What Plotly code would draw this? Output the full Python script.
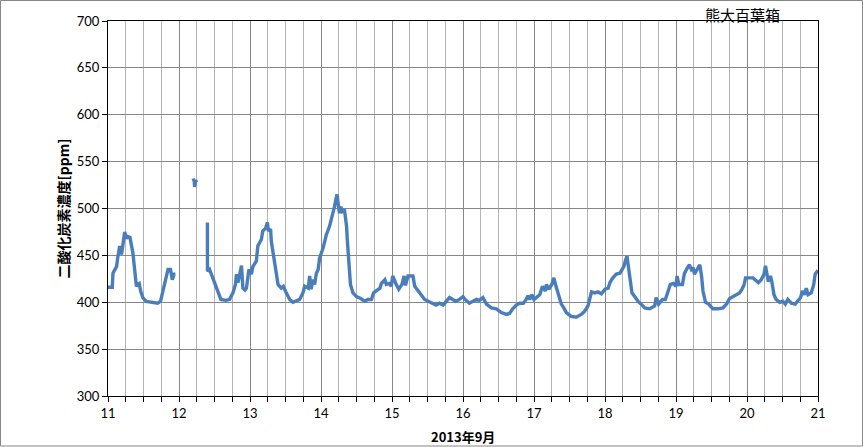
import plotly.graph_objects as go

# Day of September 2013 (fractional) and CO2 concentration [ppm]; None = gap
days = [
    11.00, 11.06, 11.07, 11.12, 11.14, 11.165, 11.19, 11.21, 11.235, 11.26, 11.28, 11.31,
    11.33, 11.35, 11.375, 11.40, 11.42, 11.44, 11.46, 11.49, 11.54, 11.61, 11.70, 11.74,
    11.775, 11.81, 11.845, 11.88, 11.905, 11.93, 11.95,
    11.96,
    12.20, 12.215, 12.22, 12.235, 12.25,
    12.30,
    12.40, 12.401, 12.43, 12.45, 12.50, 12.55, 12.59, 12.66, 12.71, 12.76, 12.795, 12.81,
    12.83, 12.85, 12.88, 12.90, 12.93, 12.95, 12.985, 13.02, 13.04, 13.09, 13.11, 13.16,
    13.18, 13.22, 13.245, 13.26, 13.29, 13.30, 13.325, 13.35, 13.37, 13.395, 13.44, 13.47,
    13.51, 13.56, 13.605, 13.65, 13.70, 13.745, 13.77, 13.82, 13.84, 13.86, 13.89, 13.91,
    13.935, 13.96, 13.98, 14.03, 14.075, 14.12, 14.145, 14.17, 14.19, 14.225, 14.24, 14.26,
    14.28, 14.30, 14.33, 14.36, 14.37, 14.39, 14.415, 14.45, 14.50, 14.56, 14.615, 14.66,
    14.71, 14.74, 14.78, 14.83, 14.85, 14.90, 14.92, 14.96, 14.99, 15.01, 15.06, 15.095,
    15.14, 15.17, 15.19, 15.225, 15.26, 15.295, 15.32, 15.365, 15.41, 15.46, 15.51, 15.575,
    15.62, 15.67, 15.72, 15.765, 15.81, 15.855, 15.90, 15.95, 16.00, 16.03, 16.09, 16.14,
    16.19, 16.23, 16.28, 16.33, 16.40, 16.47, 16.54, 16.61, 16.655, 16.70, 16.75, 16.80,
    16.85, 16.89, 16.915, 16.94, 16.97, 17.00, 17.05, 17.08, 17.12, 17.16, 17.175, 17.21,
    17.25, 17.28, 17.31, 17.34, 17.385, 17.42, 17.455, 17.525, 17.595, 17.665, 17.71, 17.76,
    17.785, 17.81, 17.855, 17.90, 17.95, 18.00, 18.045, 18.07, 18.11, 18.16, 18.21, 18.245,
    18.265, 18.29, 18.31, 18.335, 18.355, 18.38, 18.42, 18.465, 18.51, 18.56, 18.63, 18.70,
    18.72, 18.755, 18.81, 18.85, 18.89, 18.92, 18.965, 19.00, 19.015, 19.04, 19.09, 19.12,
    19.17, 19.19, 19.215, 19.24, 19.26, 19.30, 19.335, 19.36, 19.38, 19.415, 19.46, 19.52,
    19.59, 19.66, 19.71, 19.755, 19.80, 19.85, 19.895, 19.93, 19.96, 19.98, 20.04, 20.085,
    20.13, 20.16, 20.20, 20.24, 20.26, 20.275, 20.30, 20.33, 20.35, 20.38, 20.41, 20.46,
    20.505, 20.54, 20.575, 20.625, 20.68, 20.71, 20.755, 20.78, 20.81, 20.835, 20.86, 20.905,
    20.94, 20.96, 20.985, 21.00,
]
co2 = [
    416, 416, 431, 438, 449, 460, 451, 463, 475, 468, 470, 469,
    462, 453, 435, 417, 419, 420, 412, 405, 401, 400, 399, 401,
    412, 424, 435, 435, 424, 430, 430,
    None,
    532, 529, 523, 530, 528,
    None,
    485, 433, 435, 431, 421, 412, 403, 402, 403, 410, 419, 430,
    421, 428, 439, 415, 413, 415, 435, 430, 438, 444, 460, 467,
    476, 479, 485, 476, 478, 465, 453, 438, 426, 419, 415, 417,
    410, 403, 400, 401, 403, 410, 417, 415, 428, 414, 424, 419,
    431, 435, 447, 458, 472, 481, 488, 495, 502, 515, 508, 495,
    502, 497, 499, 481, 467, 438, 419, 410, 406, 404, 401, 403,
    403, 410, 412, 415, 420, 424, 419, 420, 417, 428, 419, 414,
    419, 428, 418, 428, 428, 428, 417, 412, 408, 403, 401, 399,
    397, 399, 397, 401, 405, 403, 401, 403, 406, 403, 399, 401,
    403, 402, 405, 398, 394, 393, 389, 387, 388, 393, 397, 399,
    399, 403, 407, 403, 408, 403, 406, 408, 417, 412, 419, 414,
    419, 426, 417, 408, 398, 394, 389, 385, 384, 387, 390, 396,
    403, 411, 410, 411, 409, 414, 415, 421, 426, 430, 431, 435,
    438, 445, 449, 435, 421, 410, 406, 401, 398, 394, 393, 396,
    405, 398, 403, 403, 412, 419, 420, 417, 428, 419, 419, 431,
    438, 440, 435, 437, 430, 435, 440, 428, 412, 400, 398, 393,
    393, 394, 398, 404, 406, 408, 410, 414, 419, 426, 426, 426,
    423, 421, 424, 430, 439, 430, 422, 428, 422, 408, 403, 400,
    401, 398, 403, 399, 398, 401, 405, 412, 408, 415, 408, 410,
    419, 430, 433, 434,
]

x_ticks = list(range(11, 22))
y_range = [300, 700]

title_text = "熊大百葉箱"
x_title = "2013年9月"
y_title = "二酸化炭素濃度[ppm]"

fig = go.Figure()
fig.add_trace(go.Scatter(
    x=days, y=co2, mode="lines",
    line=dict(color="#4a7ebb", width=3.4),
    connectgaps=False, showlegend=False, hoverinfo="skip",
))

tick_font = dict(family="Lato, Carlito, 'Open Sans', sans-serif", size=13, color="#000")

fig.update_layout(
    width=863, height=447,
    margin=dict(l=108, r=45, t=21, b=51, autoexpand=False),
    paper_bgcolor="white", plot_bgcolor="white",
    xaxis=dict(
        range=[11, 21], tickvals=x_ticks, ticktext=[str(v) for v in x_ticks],
        showgrid=True, gridcolor="#868686", gridwidth=1,
        showline=True, linecolor="#000", linewidth=1, mirror=True,
        ticks="outside", ticklen=5, tickcolor="#000",
        tickfont=tick_font, zeroline=False,
        minor=dict(dtick=0.25, showgrid=True, gridcolor="#b4b4b4", gridwidth=1,
                   ticks="outside", ticklen=5, tickcolor="#000"),
    ),
    yaxis=dict(
        range=y_range, dtick=50, tick0=300,
        showgrid=True, gridcolor="#868686", gridwidth=1,
        showline=True, linecolor="#000", linewidth=1, mirror=True,
        ticks="outside", ticklen=5, tickcolor="#000",
        tickfont=tick_font, zeroline=False,
    ),
    font=dict(family="Noto Sans CJK JP"),
)

# axis titles and chart label as annotations for precise placement
fig.add_annotation(
    text=y_title, textangle=-90, xref="paper", yref="paper",
    x=(62 - 108) / 710, y=0.5, xanchor="center", yanchor="middle", showarrow=False,
    font=dict(family="Noto Sans CJK JP", size=14, color="#000", weight="bold"),
)
fig.add_annotation(
    text=x_title, xref="paper", yref="paper",
    x=0.5, y=-(436 - 396) / 375, xanchor="center", yanchor="middle", showarrow=False,
    font=dict(family="Noto Sans CJK JP", size=13, color="#000", weight="bold"),
)
fig.add_annotation(
    text=title_text, xref="paper", yref="paper",
    x=(742 - 108) / 710, y=(396 - 14) / 375, xanchor="center", yanchor="middle",
    showarrow=False,
    font=dict(family="Noto Sans CJK JP", size=15, color="#000"),
)

# outer chart border
fig.add_shape(
    type="rect", xref="paper", yref="paper",
    x0=(0.5 - 108) / 710, x1=(862.5 - 108) / 710,
    y0=(396 - 446) / 375, y1=(396 - 0.5) / 375,
    line=dict(color="#868686", width=1), layer="below",
)

fig.write_html(
    "out.html",
    config={"displayModeBar": False},
    post_script="document.body.style.margin='0';",
)
